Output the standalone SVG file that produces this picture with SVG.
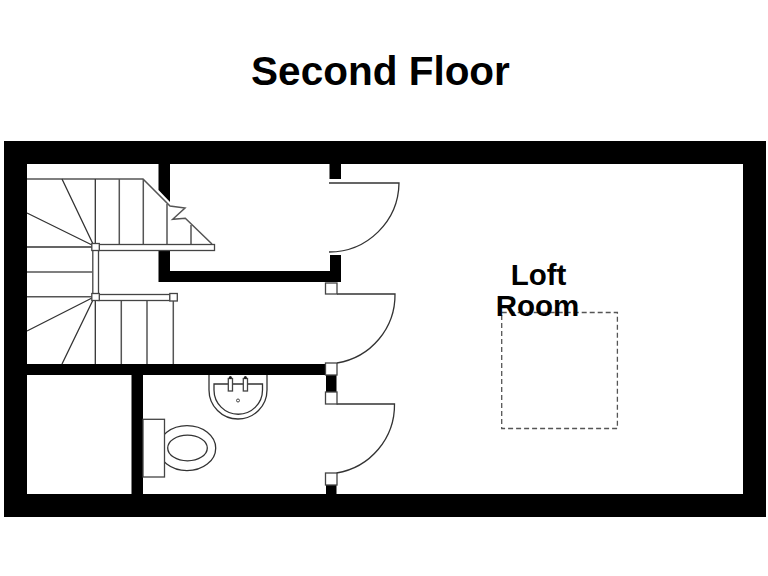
<svg xmlns="http://www.w3.org/2000/svg" width="768" height="576" viewBox="0 0 768 576">
<style>
text{font-family:"Liberation Sans",Arial,sans-serif;font-weight:bold;fill:#000;text-anchor:middle}
.w{fill:#000}
.l{fill:none;stroke:#333;stroke-width:1.3}
.g{fill:none;stroke:#555;stroke-width:1.5}
.b{fill:#fff;stroke:#444;stroke-width:1.3}
</style>
<rect width="768" height="576" fill="#fff"/>
<g id="walls">
<path class="w" fill-rule="evenodd" d="M4 141H766V517H4ZM27 164V494H743V164Z"/>
<path class="w" d="M158.500 164H170V202L158.500 190ZM158.500 250H170V271H330V255H341V282H158.500Z"/>
<path class="w" d="M329.500 164H341V179H329.500ZM27 364H325V375H27ZM131.500 375H143V494H131.500ZM326 375H336.500V392H326ZM326 485H336.500V494H326Z"/>
</g>
<g id="stairs">
<path class="g" d="M27 179H143L170 206L185 208L172.700 219.300L185.300 218.300L212 244"/>
<path class="g" d="M119.300 179V244M143.300 179V244M167 204V244M191 225V244M27 272H92M27 296.700H92M121.300 300V364M147 300V364M173.300 300V364"/>
<path class="l" d="M62 179L93 244M27 213L92 245M27 247H92M27 331L92 298M62 364L93 300M95.300 179V244M95.300 300V364"/>
<rect class="b" x="98" y="244.500" width="116.500" height="6"/>
<rect class="b" x="92.800" y="250" width="5.700" height="44"/>
<rect class="b" x="98" y="294.500" width="72" height="6"/>
<rect class="b" x="91.800" y="243.500" width="7.500" height="7"/>
<rect class="b" x="91.800" y="293.500" width="7.500" height="7"/>
<rect class="b" x="169.800" y="293.500" width="7.500" height="7.500"/>
</g>
<g id="doors">
<path class="l" d="M329 183H399A70 70 0 0 1 329 252"/>
<path class="l" d="M337 294H395A69 69 0 0 1 337 363"/>
<path class="l" d="M336.500 404H394.500A69 69 0 0 1 336.500 473"/>
<rect class="b" x="325.500" y="283" width="11.500" height="11"/>
<rect class="b" x="325.500" y="363" width="11.500" height="12"/>
<rect class="b" x="325.500" y="392" width="11.500" height="12"/>
<rect class="b" x="325.500" y="473" width="11.500" height="12"/>
</g>
<g id="basin">
<path class="l" d="M209 375V390A29 29 0 0 0 238 419A29 29 0 0 0 267 390V375"/>
<path class="l" d="M214 384H262.500V390A24.250 24.250 0 0 1 214 390Z"/>
<rect class="b" x="228.300" y="378.500" width="4.200" height="12.500"/>
<rect class="b" x="243.300" y="378.500" width="4.200" height="12.500"/>
<circle cx="230.400" cy="377.500" r="1.500" fill="#222"/>
<circle cx="245.400" cy="377.500" r="1.500" fill="#222"/>
<circle cx="238" cy="400.500" r="1.500" fill="#fff" stroke="#444"/>
</g>
<g id="toilet">
<ellipse class="l" cx="187" cy="448.200" rx="28.700" ry="22.500"/>
<ellipse class="l" cx="187.500" cy="448" rx="19.800" ry="12.800"/>
<rect class="b" x="143" y="419.300" width="21.500" height="57.700"/>
</g>
<g id="hatch">
<rect x="501.700" y="312.500" width="115.700" height="116" fill="none" stroke="#555" stroke-width="1.3" stroke-dasharray="5 3"/>
</g>
<g id="labels">
<text x="380.500" y="85" font-size="40.500">Second Floor</text>
<text x="538.500" y="285" font-size="29.500">Loft</text>
<text x="537.500" y="316" font-size="29.500">Room</text>
</g>
</svg>
